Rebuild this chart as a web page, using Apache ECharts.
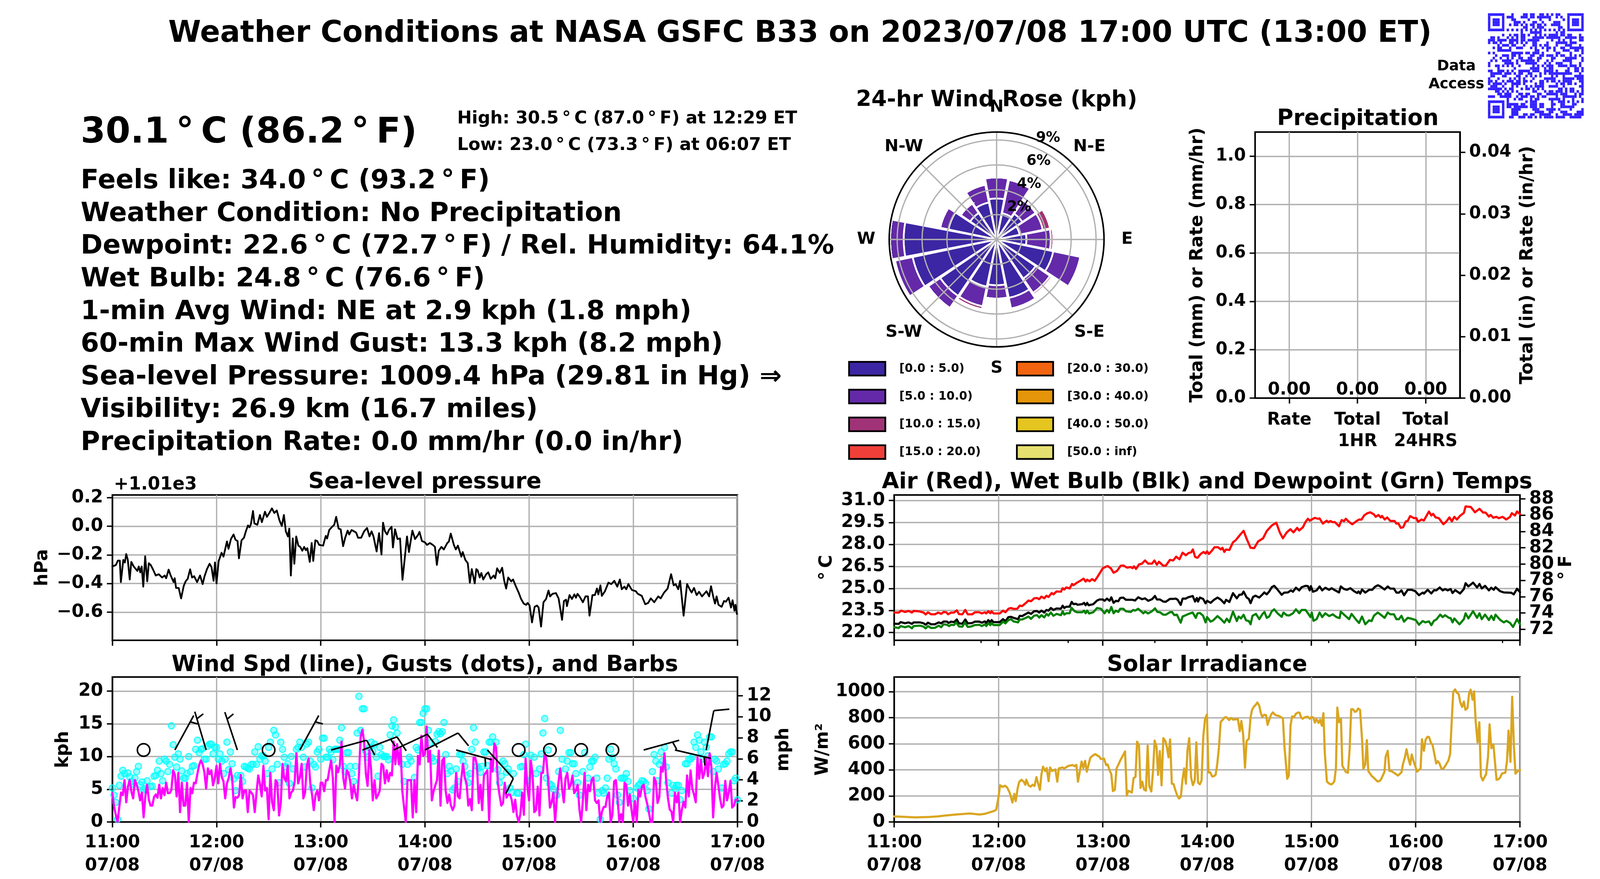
<!DOCTYPE html>
<html><head><meta charset="utf-8">
<style>html,body{margin:0;padding:0;background:#fff;overflow:hidden}#c{width:100vw;height:100vh}</style>
<script src="https://cdn.jsdelivr.net/npm/echarts@6/dist/echarts.min.js"></script>
</head><body><div id="c"></div>
<script>
// NOTE: the sandbox window measures 4096x2250 (innerWidth), not the nominal 4500x2250.
// Layout x positions and font sizes are therefore scaled by innerWidth/4500.
const FONT='"DejaVu Sans"';
const timeLabels=['11:00','12:00','13:00','14:00','15:00','16:00','17:00'];
const dateLabel='07/08';
const mainTitle='Weather Conditions at NASA GSFC B33 on 2023/07/08 17:00 UTC (13:00 ET)';
const tempNow='30.1\u2009°\u2009C (86.2\u2009°\u2009F)';
const highLow=['High: 30.5\u2009°\u2009C (87.0\u2009°\u2009F) at 12:29 ET','Low: 23.0\u2009°\u2009C (73.3\u2009°\u2009F) at 06:07 ET'];
const infoLines=[
'Feels like: 34.0\u2009°\u2009C (93.2\u2009°\u2009F)',
'Weather Condition: No Precipitation',
'Dewpoint: 22.6\u2009°\u2009C (72.7\u2009°\u2009F) / Rel. Humidity: 64.1%',
'Wet Bulb: 24.8\u2009°\u2009C (76.6\u2009°\u2009F)',
'1-min Avg Wind: NE at 2.9 kph (1.8 mph)',
'60-min Max Wind Gust: 13.3 kph (8.2 mph)',
'Sea-level Pressure: 1009.4 hPa (29.81 in Hg) ⇒',
'Visibility: 26.9 km (16.7 miles)',
'Precipitation Rate: 0.0 mm/hr (0.0 in/hr)'];

// Sea-level pressure, offset from 1010 hPa: [minute since 11:00, hPa]
const pressure=[[0,-.281],[2,-.271],[3.2,-.24],[4.3,-.24],[4.9,-.39],[6.3,-.235],[7.2,-.253],[8,-.194],[8.9,-.235],[10,-.372],[10.9,-.249],[12.3,-.281],[14.4,-.312],[15.2,-.281],[16.1,-.322],[16.9,-.281],[17.8,-.422],[18.9,-.21],[20.1,-.385],[21,-.258],[22.1,-.271],[23.3,-.299],[25,-.344],[26.7,-.335],[28.7,-.358],[30.1,-.344],[31,-.363],[32.4,-.303],[33.6,-.344],[35.3,-.39],[35.9,-.363],[36.7,-.431],[38.2,-.431],[39.6,-.504],[41.1,-.417],[42.2,-.385],[43.4,-.367],[44.8,-.301],[45.9,-.358],[47.1,-.349],[48.8,-.39],[50.5,-.344],[52,-.404],[53.1,-.349],[54.5,-.299],[56,-.262],[57.1,-.285],[58.3,-.381],[59.1,-.253],[60,-.399],[61.2,-.244],[62.9,-.185],[64,-.212],[66,-.106],[66.9,-.158],[68.3,-.089],[69.8,-.057],[70.9,-.094],[72.1,-.103],[72.9,-.224],[74.4,-.098],[75.8,-.08],[76.9,-.035],[78.1,.006],[79,-.007],[79.8,.015],[81,.107],[81.8,.02],[83.5,.011],[85,.079],[86.1,.029],[87.9,.102],[89,.066],[90.4,.093],[91.9,.125],[93.3,.093],[94.7,.111],[96.2,.043],[97.6,.002],[98.8,.079],[99.9,-.035],[101.1,-.071],[101.9,-.016],[102.8,-.344],[103.9,-.085],[104.8,-.262],[105.9,-.071],[107.1,-.135],[108.2,-.144],[109.4,-.171],[110.5,-.144],[111.4,-.167],[112.3,-.153],[113.7,-.249],[114.8,-.117],[115.7,-.242],[116.9,-.098],[118,-.103],[119.1,-.13],[121.4,-.135],[122.9,-.067],[123.7,-.085],[124.9,-.026],[126.3,-.007],[127.8,.011],[128.9,.066],[130.3,-.016],[131.5,-.021],[132.9,-.139],[134.1,-.08],[135.5,-.03],[136.4,-.057],[137.8,-.026],[139.2,-.035],[140.4,-.044],[141.5,-.08],[143.3,-.08],[145,-.035],[146.7,-.012],[148.1,-.071],[149.3,-.035],[150.4,-.071],[152.2,-.176],[153.6,-.048],[155,-.197],[155.9,.025],[157,-.035],[158.2,-.057],[159.3,-.026],[160.8,-.003],[161.6,-.148],[162.8,-.021],[164.2,-.089],[165.7,-.085],[167.1,-.374],[168.5,-.212],[169.7,-.071],[170.8,-.18],[172.8,-.03],[174.3,-.089],[176,-.062],[176.9,-.039],[178.3,-.103],[180,-.112],[181.2,-.13],[182.9,-.117],[184.6,-.13],[185.8,-.144],[186.9,-.27],[188,-.171],[189.5,-.144],[190.9,-.162],[192.9,-.117],[193.8,-.107],[194.9,-.051],[196.7,-.13],[197.8,-.162],[199,-.135],[201,-.212],[201.8,-.18],[203.3,-.235],[204.7,-.258],[205.9,-.394],[207,-.299],[208.7,-.399],[209.6,-.299],[210.4,-.308],[211.6,-.358],[212.5,-.326],[213.6,-.372],[215.3,-.335],[216.5,-.322],[217.9,-.367],[219.6,-.344],[220.5,-.363],[221.6,-.294],[223.1,-.326],[224.5,-.29],[225.7,-.381],[226.8,-.435],[228,-.358],[229.7,-.385],[230.8,-.372],[232.3,-.417],[234,-.463],[235.4,-.508],[236.9,-.54],[238.3,-.549],[239.2,-.536],[240.3,-.554],[241.7,-.672],[243.2,-.563],[244.6,-.554],[245.5,-.568],[246.9,-.701],[248.3,-.531],[249.8,-.508],[251.2,-.449],[252.1,-.49],[253.5,-.472],[255.5,-.467],[257,-.504],[259,-.654],[260.1,-.522],[261.3,-.513],[261.8,-.558],[263.3,-.481],[264.7,-.508],[266.1,-.476],[267,-.499],[267.9,-.472],[269.3,-.495],[271,-.531],[272.5,-.49],[273.9,-.49],[274.8,-.625],[276.5,-.481],[277.9,-.481],[279.1,-.435],[279.9,-.476],[281.1,-.413],[281.9,-.486],[283.7,-.454],[285.7,-.394],[287.4,-.404],[289.1,-.381],[290.8,-.422],[292.3,-.372],[293.4,-.44],[294.9,-.422],[296,-.44],[297.2,-.404],[299.2,-.445],[301.5,-.454],[302.6,-.472],[304.9,-.486],[306.9,-.545],[308.6,-.536],[310.1,-.504],[312.1,-.531],[314.4,-.49],[315.8,-.504],[317.8,-.463],[319.8,-.435],[321.8,-.335],[323.3,-.413],[324.4,-.404],[325.9,-.44],[327,-.381],[329,-.625],[331,-.404],[332.5,-.44],[333.6,-.463],[335,-.431],[336.5,-.481],[337.9,-.458],[339.6,-.49],[342.2,-.454],[343.7,-.49],[344.8,-.419],[346.2,-.499],[347.1,-.54],[348,-.49],[349.1,-.549],[350.9,-.563],[352.3,-.522],[353.4,-.527],[354.9,-.499],[356.3,-.568],[357.2,-.517],[358.3,-.59],[358.9,-.549],[359.7,-.613]];

// 1-min wind speed, kph, one value per minute from 11:00
const windSpeed=[4.4,2.3,1.1,0,2.3,4.5,4.1,6.4,3,5.4,6.4,4.6,3.6,6.4,5.7,4.7,3.3,4.5,.7,3.9,5.7,3.4,2.5,2.5,3.8,4.2,3.7,5.7,3.6,5.2,4.1,6,4.4,4.4,4.9,7.9,7.2,3.9,7.5,1.5,6,2.5,2.5,6,0,5.2,4.4,6,5.9,7.4,8.7,9.4,8.8,7.6,5.1,8.2,7.3,7.9,5.6,6.7,8.6,5.9,8.9,6.9,6.2,3.6,5.9,6.7,8.2,6.7,2.2,3.8,3.7,4.1,7.2,3.6,4.8,4.8,1.5,4.8,4.5,4.1,1.5,4.4,7.1,5.8,3.9,8.6,4.8,5.2,.4,7.5,3,1.8,6.4,6,1,2.9,8.9,6.7,6.2,8.6,3.6,4.5,4.8,6.2,10.5,5.9,6.8,8.9,3.6,4.5,8.6,9.7,5.9,4.2,1.8,4.1,4.8,3.3,6,6,4.7,6.4,6.4,8,9.4,6.7,0,8.6,7.6,8.7,12.3,6.7,5.1,7.9,7.5,6.2,3.6,5.7,4.3,3.3,7.1,13,14.1,12.3,7.4,5.5,11,8,3.3,6.4,3.6,4.1,4.8,8.9,8.6,5.9,7.9,6.2,7.5,
7.1,12.3,8.8,11.9,8.8,11.4,4.7,2.3,0,6.4,6.4,6.4,.7,6.4,1.5,10.1,8.8,13.2,10.1,10.3,14.6,9.2,10.9,3.3,4.7,5.6,6.4,10.9,2.5,9.4,9.8,4.7,2.9,4.2,2.5,1.8,2.5,7.5,3.9,3.6,6.7,8.9,6.7,5.9,2.5,3.5,1.8,9.8,9.8,8.6,2.9,5.7,1.8,7.1,7.5,7.9,0,9.7,7.7,12,11.4,6,4.1,2.5,2.9,6,3.7,4.2,4.2,3.4,1.5,3.4,1,0,1.2,4.5,1.1,9.7,5.4,3.3,9.4,7.3,1.5,1.8,5.4,1,7.5,7.5,10.6,9.5,6.4,2.2,3,4.5,0,3.6,6.2,8.2,5.1,3,6.7,7.5,5.1,5.7,7.1,4.4,4.8,5.7,1.9,0,3.4,7.5,1.8,5.7,4.7,6.4,6.8,3.3,2.9,3.3,0,1.6,2.3,2.3,3.9,4.5,0,1.1,6.2,6.4,3.4,0,1.2,0,6,5.7,2.5,4.2,1.9,0,3.2,0,4.9,3.9,5.4,5.7,3.9,2.8,1.5,0,0,6.8,6.2,2.9,3.8,8.4,7.7,10.5,6.2,3.6,1.9,1.6,0,4.5,3,4.5,0,1.9,3.1,2.2,7.1,3.9,7.9,5.1,4.2,3,9.9,6.6,9.5,6.7,7.5,9.7,7,10.5,8.4,.7,5.1,7.5,5.6,3.6,2.2,2.5,6.3,3.3,4.5,6.3,2.2,2.5,3.4,3.4];

// Gusts: [minute since 11:00, kph]
const windGust=[[0,5.2],[1,4.1],[2,3],[3,.4],[4,5.6],[5,7],[6,7.9],[7,7.4],[9,7.5],[10,6.9],[11,6.2],[12,5.8],[13,6.7],[14,7.7],[15,8.5],[16,5.7],[17,6.1],[18,4.9],[19,5.1],[20,6.3],[22,5.4],[23,5.5],[24,7],[25,7.1],[26,7.9],[27,9.3],[28,7.4],[29,6.3],[30,9.6],[31,9.3],[32,7.7],[33,8.8],[34,14.7],[35,11.8],[36,9.9],[37,8.4],[38,10.4],[39,9.6],[40,7.8],[41,6.7],[42,6.7],[43,7.4],[44,10],[45,7.7],[46,8.5],[47,8.6],[48,11.1],[49,12.5],[50,10.6],[51,11.1],[52,11.2],[53,9.6],[54,9.6],[55,11.6],[56,11.9],[57,11.9],[58,10.4],[59,11.4],[60,11.4],[61,9.6],[62,10.4],[63,9.3],[64,7.4],[65,9.6],[66,12.2],[67,8],[68,10.7],[69,8.9],[70,6.6],[71,4.8],[72,7.1],[74,7.1],[75,6.2],[76,8.5],[77,8.4],[78,8.2],[79,8.1],[80,8.8],[81,8.8],[82,10.7],[83,8.8],[84,11.5],[85,9.6],[86,10.1],[87,10.1],[88,9.3],[89,7.4],[90,11.4],[91,12.2],[92,8.1],[93,14],[94,13.3],[95,8.8],[96,6],[97,12.2],[98,11.1],[99,9.9],[100,8.4],[101,8.9],[102,5.9],[103,10],[104,8.1],[106,11.1],[107,11.4],[108,12.2],[109,11.4],[110,9.9],[111,8.4],[112,11.9],[113,12.2],[114,9.3],[115,5.2],[116,8.8],[117,8.4],[118,10.7],[119,11.1],[120,9.6],[121,12.8],[122,12.8],[123,9.9],[124,9.9],[125,11.1],[126,10.7],[127,9.5],[128,11.1],[129,11.1],[130,11.1],[131,12.5],[132,14.4],[133,8.5],[134,7.7],[135,10.6],[136,10.6],[137,8.5],[138,7.4],[139,6.2],[140,8.5],[141,13.6],[142,19.2],[143,14],[144,17.3],[145,17.3],[146,10.8],[147,9.9],[148,11.4],[149,12.2],[150,10.8],[151,11.9],[152,9.9],[153,7],[154,11.4],[155,10.3],[156,10],[157,10],[158,10],[159,9.5],[160,13.3],[161,14.7],[162,15.6],[163,14.5],[164,13.6],[167,8.8],[168,6.2],[170,8.8],[171,9.9],[172,9.3],[174,6.8],[175,11.4],[176,11],[177,15.2],[178,15.2],[179,16.6],[180,17.3],[181,17.3],[182,14],[183,12.1],[184,9.8],[185,9.3],[186,12.3],[187,13.4],[188,13.8],[189,13.5],[190,13.8],[191,15.2],[192,10.3],[193,7.4],[194,8.5],[195,7.8],[196,4.9],[197,5.2],[198,8.1],[199,6.2],[200,10.3],[201,10.3],[202,9.3],[203,8.5],[204,7.1],[205,6],[206,7.4],[207,11.1],[208,14.4],[209,12.2],[210,8.5],[211,8.2],[212,7.6],[213,8.5],[214,10.7],[215,10.7],[216,8.6],[217,12.2],[218,12.2],[219,13],[221,12.2],[222,8],[223,6],[224,7],[225,9.3],[226,8.9],[227,7.6],[228,8.1],[229,5.2],[230,4.5],[231,7.4],[233,4.4],[234,4.4],[235,8.4],[236,8.5],[237,10.3],[238,11.9],[239,6.3],[241,10.2],[243,9.9],[244,7.4],[246,8.1],[247,10.4],[248,13.6],[249,15.8],[250,6.7],[251,11],[252,5.8],[253,5.6],[254,5],[255,4.1],[256,4.1],[257,7.7],[258,14],[259,9.6],[261,8.1],[262,9.3],[263,10.6],[264,10.6],[265,8.9],[266,8.9],[267,7.4],[268,6],[269,4.1],[271,7.7],[272,10.6],[274,6.7],[275,8.4],[276,9.3],[277,9.3],[278,9.9],[279,6.7],[280,4.4],[281,.4],[282,4.8],[283,4.4],[284,5.2],[285,6.7],[286,9.6],[287,11.1],[288,9.9],[289,8.9],[290,8.1],[291,4.1],[292,3],[293,6.7],[294,6.7],[295,6.7],[296,7.4],[297,6.2],[298,4.8],[300,3.6],[302,5.2],[303,5.6],[304,5.8],[305,6.3],[306,6.2],[307,5.9],[308,4.8],[309,2],[311,7.7],[312,10.3],[313,9.3],[314,6.3],[315,8.8],[316,10.7],[317,9.3],[318,11.4],[319,8.4],[320,6],[322,4.4],[323,5.6],[324,5.1],[325,5.6],[326,5.6],[327,3.4],[328,4.8],[330,8.9],[331,8.9],[332,9.6],[333,9.6],[334,9.9],[335,12.2],[336,11.4],[337,13.3],[338,12.5],[339,10.7],[340,9.6],[341,12.2],[342,11.4],[343,10.1],[344,13],[345,13],[346,7.7],[347,9.6],[348,9.3],[349,8.1],[351,5.2],[352,8.8],[353,8.9],[354,9.3],[355,10.4],[356,10.7],[357,10.7],[358,6.3],[359,6.7],[360,3.4]];

// Barbs: minute, shaft bearing on screen (deg), kind (0 calm, 1 half, 2 full, 3 full+half)
const barbMinutes=[18,36,54,72,90,108,126,144,162,180,198,216,234,252,270,288,306,324,342];
const barbBearings=[0,31,-18,-20,0,31,76,71,67,65,104,135,0,0,0,0,76,102,12];
const barbKinds=[0,1,1,1,0,1,2,3,2,2,1,2,0,0,0,0,1,1,2];
const barbLevel=11;

// Air temperature, °C: [minute, value]
const airTemp=[[0,23.36],[2.6,23.36],[4,23.49],[6.2,23.4],[8.3,23.47],[10.2,23.36],[11.2,23.47],[14.8,23.43],[16.9,23.36],[18.1,23.23],[19.4,23.38],[21.2,23.24],[23.4,23.24],[25.3,23.36],[27,23.27],[28.4,23.4],[29.9,23.38],[31,23.24],[32.7,23.36],[34.4,23.36],[36,23.51],[37.3,23.25],[39.2,23.24],[40.9,23.54],[42.3,23.24],[44.9,23.24],[46.4,23.38],[48.9,23.38],[50.4,23.3],[52.1,23.38],[53,23.3],[54.1,23.45],[55.3,23.31],[56,23.45],[57.1,23.3],[60.7,23.3],[62.6,23.49],[64,23.38],[65.7,23.62],[67.2,23.67],[68.6,23.61],[70.8,23.62],[72.2,23.83],[73.6,23.8],[75.8,24.02],[77.2,24.18],[78.7,24.13],[80.5,24.33],[82.2,24.35],[83.4,24.27],[84.7,24.45],[86.3,24.33],[87.6,24.51],[88.7,24.42],[90.6,24.69],[91.6,24.6],[93.4,24.8],[95.9,24.78],[96.9,25.02],[97.8,24.93],[99,25.07],[100.9,25],[102.3,25.31],[103.1,25.22],[105.2,25.4],[106.6,25.49],[108.9,25.67],[110.1,25.47],[111,25.6],[112.4,25.49],[113.8,25.64],[115.3,25.52],[116.7,25.75],[120,26.38],[122.7,26.53],[124.6,26.38],[126.2,26.07],[128.2,26.2],[130.3,26.55],[131.8,26.57],[133.9,26.42],[136.1,26.46],[137.1,26.38],[137.9,26.51],[139.1,26.33],[140.8,26.64],[142.5,26.69],[144.3,26.91],[146.1,26.69],[148.3,26.69],[149.7,26.91],[151.1,26.62],[152.3,26.82],[154.7,26.55],[156.2,26.55],[158.6,26.95],[160.5,26.91],[162.2,27.17],[164.1,26.99],[165.9,27.44],[167.7,27.26],[169.4,27.42],[170.8,27.46],[171.8,27.66],[173.1,27.15],[174.5,27.09],[176.3,27.35],[178,27.49],[179.1,27.38],[180,27.53],[181,27.35],[182.7,27.57],[184.2,27.81],[186.3,27.81],[187.8,27.66],[188.8,27.77],[189.9,27.49],[190.9,27.66],[192.8,27.62],[194.9,28.15],[196.4,28.28],[198.5,28.59],[201,28.93],[202.8,28.37],[205,27.77],[207.1,27.75],[209.3,28.2],[212.2,28.42],[214.3,28.91],[217.2,29.29],[219.8,29.48],[221.8,28.82],[223.6,28.42],[225.8,28.82],[227.9,29.04],[229.7,28.82],[231.8,29.13],[233,28.95],[235.1,29.17],[236.6,29.53],[238,29.75],[239,29.62],[241.9,29.81],[243.7,29.75],[244.7,29.77],[246.6,29.42],[248.8,29.62],[249.8,29.51],[250.9,29.6],[252.3,29.51],[253.4,29.53],[255.9,29.24],[257.4,29.66],[258.8,29.59],[259.8,29.75],[261.7,29.53],[263.5,29.37],[265.7,29.57],[267.4,29.7],[268.8,29.69],[270.3,29.97],[272.2,30.13],[273.9,30.19],[276,30.04],[277,29.88],[278.5,30.01],[279.9,29.84],[280.6,29.94],[282.2,29.7],[283.6,29.84],[285.4,29.6],[287.8,29.6],[288.9,29.42],[290,29.44],[291.4,29.13],[292.8,29.17],[294.3,29.57],[295.4,29.6],[296.8,29.93],[299,29.79],[300.4,29.79],[301.4,29.54],[303.3,29.7],[304.7,29.63],[307.6,30.24],[309,29.97],[310,30.08],[311.5,29.84],[313.3,29.79],[315.9,29.38],[317.4,29.53],[319.4,29.84],[320.8,29.57],[322.2,29.88],[323.7,29.7],[325.5,29.95],[327.7,30.15],[328.7,30.59],[331.7,30.55],[334.1,30.19],[336.7,30.43],[338.8,30.17],[340.2,30.17],[342.1,29.9],[343.1,30.01],[344.6,29.82],[346.4,29.88],[347.8,29.79],[350,29.88],[352.1,29.7],[354.3,29.88],[355.3,30.13],[357.1,29.97],[358.3,30.25],[360,30.06]];

const wetBulb=[[0,22.6],[2.6,22.59],[3.7,22.71],[6.2,22.63],[8.3,22.69],[10.2,22.59],[11.2,22.69],[14.8,22.69],[16.9,22.63],[18.1,22.53],[19.4,22.67],[21.2,22.56],[23.4,22.56],[25.6,22.69],[27,22.62],[28.4,22.75],[30.3,22.75],[31.3,22.65],[32.7,22.74],[34.4,22.71],[36,22.89],[37.3,22.62],[39.2,22.6],[40.9,22.89],[42.3,22.62],[44.9,22.65],[46.4,22.74],[48.9,22.75],[50.4,22.67],[52.1,22.76],[53,22.65],[54.1,22.85],[55.3,22.69],[56,22.85],[57.1,22.71],[60.7,22.71],[62.6,22.91],[64,22.78],[65.7,23.05],[67.2,23.07],[68.6,23],[71.2,22.91],[72.2,23.14],[73.6,23.12],[75.8,23.27],[77.2,23.36],[78.7,23.27],[80.5,23.45],[82.2,23.46],[83.4,23.36],[84.7,23.49],[86.3,23.36],[87.6,23.54],[88.7,23.49],[90.1,23.67],[91.6,23.54],[93.4,23.64],[95.9,23.62],[96.9,23.83],[97.8,23.67],[99,23.76],[100.9,23.76],[102.1,24.09],[103.1,23.93],[104.5,23.96],[105.5,23.89],[108.1,23.93],[109.2,24.02],[110.1,23.86],[111,24.02],[111.8,23.86],[114.5,23.93],[116.7,24.18],[118.1,24.25],[120,24.25],[121,24.16],[122.4,24.31],[123.9,24.16],[124.9,24.4],[126.2,24.02],[127.5,24.16],[128.9,24.13],[130,24.36],[131.8,24.38],[133.2,24.23],[137.1,24.23],[138.5,24.18],[140.4,24.4],[142.5,24.27],[144.3,24.33],[146.1,24.16],[148.3,24.27],[150,24.49],[151.1,24.25],[152.9,24.25],[154.7,24.11],[156.2,24.09],[158.6,24.29],[160.5,24.29],[162,24.31],[163.1,24.23],[164.8,23.88],[165.9,24.31],[167.7,24.31],[169.1,24.4],[171.7,24.49],[173.1,24.11],[174.1,24.35],[174.8,24.11],[175.8,24.38],[177.7,24.29],[179.1,23.99],[180,24.16],[182,24.02],[184.2,24.25],[186,24.38],[187.8,24.25],[189.9,23.99],[190.9,24.23],[192.8,24.08],[194.9,24.68],[197.1,24.33],[198.5,24.57],[200,24.59],[201,24.79],[202.8,24.38],[204,24.29],[205,24],[206.4,24.42],[207.8,24.51],[210,24.38],[211.9,24.6],[212.9,24.73],[214.3,24.6],[215.7,24.79],[217.2,25.09],[218.6,25.18],[220,25],[222.9,24.57],[224.4,24.72],[226.5,24.73],[228.2,24.87],[229.4,24.78],[231.1,25.05],[233,24.87],[234.4,25.09],[236.6,25.18],[238,25.16],[239,24.87],[239.7,25.16],[240.9,24.78],[243,24.87],[244.7,25.14],[246.2,24.87],[248,25.05],[250.2,24.91],[251.6,25.02],[253.1,24.91],[255.9,24.73],[256.9,25.14],[258.8,24.96],[260.5,24.91],[262.4,25.02],[264.5,24.82],[266.3,24.69],[267.1,24.8],[268.1,24.65],[269.1,24.93],[271,24.72],[273.2,24.91],[275,24.91],[276.5,25.11],[278.2,25.22],[279.6,25.14],[282.1,24.93],[283.9,25.14],[285.4,24.99],[287.5,24.99],[288.9,24.72],[290.4,24.72],[291.8,24.87],[293.3,24.54],[295.4,24.91],[297.6,24.91],[299.7,24.82],[301.9,24.54],[304,24.72],[304.7,24.65],[306.9,24.91],[309,24.66],[310.5,24.88],[311.9,24.87],[313.8,25.07],[315.5,24.87],[316.9,24.96],[318.4,24.87],[320.1,24.96],[321.2,24.69],[322.7,24.89],[325.5,24.66],[327.7,24.96],[328.7,25.36],[330.3,25.14],[333,25.4],[335.3,25.07],[336.7,25.31],[338,25],[339.9,25.18],[342.1,24.87],[343.5,25.05],[344.9,24.91],[345.9,25.09],[348.5,24.82],[350.7,24.73],[355,24.71],[356.4,24.6],[358.3,24.98],[360,24.75]];

const dewPoint=[[0,22.36],[2.6,22.31],[3.7,22.44],[6.2,22.36],[8.3,22.44],[10.2,22.29],[11.2,22.44],[14.8,22.47],[16.9,22.4],[18.1,22.28],[19.4,22.44],[21.2,22.31],[23.4,22.32],[25.6,22.47],[27,22.36],[28.4,22.56],[30.3,22.53],[31.6,22.44],[32.7,22.53],[34.4,22.51],[35.6,22.69],[37.3,22.41],[39.2,22.4],[40.6,22.69],[42.3,22.38],[44.2,22.41],[46.4,22.51],[48.9,22.53],[50.4,22.44],[52.1,22.56],[53,22.44],[54.1,22.65],[55.3,22.5],[56,22.65],[57.1,22.51],[60.7,22.51],[62.6,22.74],[64,22.62],[65.7,22.85],[67.2,22.91],[68.6,22.76],[71.2,22.69],[72.2,22.89],[73.6,22.89],[75.8,23],[77.2,23.09],[78.7,22.93],[80.5,23.15],[82.2,23.18],[83.4,23.02],[84.7,23.18],[86.3,23.03],[87.6,23.27],[88.7,23.15],[90.1,23.36],[91.6,23.14],[93.4,23.27],[95.9,23.18],[96.9,23.45],[97.8,23.22],[99,23.31],[100.9,23.31],[102,23.69],[103.8,23.45],[105.2,23.38],[108.1,23.38],[109.2,23.49],[110.1,23.31],[111,23.49],[112.1,23.3],[114.5,23.38],[116.7,23.67],[118.9,23.62],[121,23.31],[122.4,23.54],[123.6,23.36],[124.9,23.74],[126.2,23.31],[127.5,23.49],[128.9,23.4],[130,23.62],[131.8,23.62],[133.2,23.45],[136.1,23.4],[137.5,23.54],[138.5,23.49],[140.4,23.62],[143.3,23.31],[144.3,23.42],[146.1,23.3],[148.3,23.45],[150,23.65],[151.4,23.4],[152.9,23.38],[154.7,23.22],[156.2,23.21],[158.6,23.38],[159.8,23.4],[161.2,23.18],[162.6,23.22],[164.8,22.67],[165.9,23.09],[168.1,23.2],[169.4,23.27],[171.7,23.36],[173.5,23.0],[174.5,23.31],[175.9,23.33],[177.7,23.14],[179.1,22.69],[180,23.05],[182,22.74],[183.5,22.83],[186,23.12],[188,22.91],[189.9,22.67],[191.3,22.94],[192.8,22.71],[194.9,23.42],[197.1,22.78],[198.1,23.09],[199.5,22.96],[201,23.21],[202.4,22.83],[204,22.78],[205,22.56],[206.1,23.14],[208.1,23.27],[210,22.91],[211.9,23.27],[213,23.4],[214.3,23],[215.7,23.09],[217.2,23.45],[218.6,23.58],[220.5,23.31],[222.9,23.07],[223.9,23.36],[225.8,23.18],[227.2,23.16],[229.4,23.31],[231.1,23.58],[233,23.31],[234.4,23.54],[236.6,23.54],[238,23.31],[239.5,23.05],[240.2,23.36],[241.2,22.8],[243,22.91],[244.7,23.36],[246.2,23.05],[248,23.31],[250.2,23.12],[252.3,23.24],[254.4,23.05],[256.2,22.98],[256.9,23.42],[259.5,23.14],[261.7,22.91],[263.1,23.27],[266,22.83],[267.4,22.65],[269.1,23.09],[271,22.56],[273.2,22.83],[274.6,22.78],[276,23.15],[278.2,23.36],[279.6,23.24],[282.1,23],[283.9,23.36],[285.4,23.24],[287.5,23.24],[288.9,22.91],[290.4,22.91],[291.8,23.14],[293.3,22.74],[295.4,23],[297.6,22.94],[300,22.85],[301.9,22.53],[304,22.78],[305.5,22.69],[307.6,22.76],[309,22.5],[310.5,22.8],[311.9,22.89],[314.1,23.22],[315.5,23.05],[316.9,23.18],[319.1,23],[320.1,22.98],[321.2,22.69],[322.2,22.96],[323.8,22.74],[325.2,22.56],[327.7,22.91],[328.7,23.31],[330.3,22.96],[333,23.45],[335.3,23],[336.7,23.31],[338,22.91],[339.9,23.22],[342.1,22.85],[343.5,23.14],[344.9,22.85],[345.9,23.22],[348.5,22.87],[350.7,22.69],[352.2,22.8],[354.3,22.65],[356,22.38],[358.3,22.91],[360,22.56]];

// Solar irradiance, W/m²: [minute, value]
const solar=[[0,43],[5,40],[12,35],[20,38],[25,43],[30,50],[36,58],[43.7,65],[49,57],[52,62],[57.4,84],[58.7,95],[60,190],[60.9,282],[62.3,269],[63.7,278],[65,264],[66.4,226],[68,149],[69.1,215],[69.9,160],[71,258],[71.9,307],[73.2,324],[74.6,307],[75.4,285],[76,324],[77.3,280],[78.5,271],[79.6,286],[80.7,276],[81.8,344],[83.8,246],[84.7,366],[85.6,424],[86.8,391],[87.7,413],[88.8,313],[89.7,418],[90.8,391],[92.7,403],[93.8,309],[94.7,411],[96.8,418],[97.8,411],[100.4,431],[102.7,437],[103.7,428],[104.8,438],[105.7,309],[107.8,464],[108.8,413],[109.8,469],[110.8,386],[112.8,493],[114.2,509],[115.7,521],[116.9,509],[117.8,504],[118.9,483],[120.7,486],[121.9,436],[122.8,441],[123.9,396],[124.9,366],[125.8,237],[126.9,246],[127.9,411],[129,441],[130,471],[131,496],[132.8,541],[133.8,202],[134.7,239],[136.7,226],[137.7,336],[138.8,346],[139.7,616],[140.8,591],[141.7,261],[142.7,309],[143.7,249],[144.8,240],[145.8,586],[146.7,276],[147.9,234],[148.9,391],[149.8,624],[150.9,576],[151.8,361],[152.8,544],[153.8,281],[154.8,643],[156,621],[156.9,571],[157.8,496],[158.7,634],[159.7,293],[160.7,291],[161.8,241],[163,197],[163.9,180],[164.9,194],[165.8,321],[166.8,411],[167.8,293],[168.7,551],[169.7,643],[170.8,341],[171.8,283],[172.9,318],[173.8,611],[174.8,301],[175.8,289],[176.8,318],[177.8,656],[178.8,790],[179.9,825],[180.8,379],[181.8,381],[182.9,349],[183.9,351],[184.9,363],[185.8,441],[186.8,571],[187.8,767],[188.8,782],[190,800],[190.9,805],[192.7,782],[193.8,798],[195,785],[197.7,790],[198.8,696],[199.7,775],[200.7,676],[201.8,416],[202.7,621],[204,638],[205,802],[205.8,858],[206.9,885],[207.8,895],[208.9,917],[210,892],[210.8,840],[211.7,805],[212.8,822],[213.9,820],[214.8,745],[216,795],[216.9,825],[217.8,840],[218.9,825],[219.8,818],[221.4,813],[223.6,795],[224.5,576],[226.1,331],[227,356],[228,740],[228.9,810],[230,805],[231.1,830],[232.3,840],[233.2,838],[234.1,802],[235,792],[236.2,803],[237.9,808],[239.1,792],[240,805],[241.1,802],[242,762],[242.9,790],[244.1,760],[245,785],[246,738],[246.9,835],[247.7,530],[248.9,311],[250,296],[251.4,288],[252.3,296],[253.2,312],[254.1,410],[254.9,878],[255.9,765],[257,790],[257.8,431],[259.8,383],[261,378],[262,560],[262.9,865],[263.9,865],[265,845],[266,850],[266.9,870],[268,860],[269.1,640],[269.9,409],[271,441],[271.9,628],[272.7,391],[274.8,351],[275.9,339],[278,311],[279.1,313],[280,326],[282,383],[282.7,500],[283.9,546],[284.9,391],[285.9,391],[288,373],[289.8,356],[291.8,381],[292.7,446],[293.8,496],[294.7,558],[295.9,481],[296.8,439],[297.7,518],[298.8,466],[299.8,426],[300.8,386],[301.8,399],[302.8,409],[303.6,635],[304.7,546],[305.7,631],[306.8,654],[307.7,651],[308.8,606],[309.7,591],[311.8,449],[312.7,466],[313.6,451],[314.8,409],[315.9,409],[316.8,426],[318.8,471],[319.8,521],[320.7,770],[321.6,998],[322.7,1017],[323.6,992],[324.7,982],[325.6,920],[326.7,882],[327.7,924],[328.6,860],[329.8,875],[330.7,985],[331.6,1015],[332.7,938],[333.6,1002],[334.5,770],[335.6,610],[336.6,765],[337.5,351],[338.6,319],[340.5,366],[341.6,500],[342.5,749],[343.5,566],[344.7,596],[346.5,324],[347.4,326],[348.5,339],[349.6,371],[351.6,379],[352.5,466],[353.4,701],[354.5,461],[355.5,961],[356.5,581],[357.4,371],[358.8,391],[360,400]];

// Wind rose: percentage per bin, 16 sectors clockwise from N
const roseDirs=['N','NNE','NE','ENE','E','ESE','SE','SSE','S','SSW','SW','WSW','W','WNW','NW','NNW'];
const roseBins=['[0.0 : 5.0)','[5.0 : 10.0)','[10.0 : 15.0)','[15.0 : 20.0)','[20.0 : 30.0)','[30.0 : 40.0)','[40.0 : 50.0)','[50.0 : inf)'];
const roseColors=['#3c26a3','#6429a8','#a03377','#ef3f38','#f2640f','#e5950a','#e5c520','#e5e070'];
const rose0=[3.55,2.32,2.69,2.04,2.58,5.01,4.09,5.16,3.96,4.17,5.91,7.42,8.04,4.26,2.77,3.27];
const rose1=[1.82,2.95,1.40,2.04,2.11,2.39,1.50,0.95,1.16,1.74,1.27,1.56,1.18,.73,.99,1.57];
const rose2=[0,0,0,.65,.22,0,.19,0,0,.26,0,0,0,0,0,0];
const roseEmpty=[0,0,0,0,0,0,0,0,0,0,0,0,0,0,0,0];
const roseSeries=[rose0,rose1,rose2,roseEmpty,roseEmpty,roseEmpty,roseEmpty,roseEmpty];
const roseRings=[2.15,4.3,6.45,8.6];
const roseMax=9.29;
const roseTickLabels=[[3.42,35,'2%'],[5.55,30.4,'4%'],[7.68,28.2,'6%'],[9.84,26.9,'9%']];
const compassLabels=[[11.42,0,'N'],[11.35,45,'N-E'],[11.28,90,'E'],[11.35,135,'S-E'],[11.15,180,'S'],[11.35,225,'S-W'],[11.28,270,'W'],[11.35,315,'N-W']];

// Precipitation
const precipCats=['Rate','Total\n1HR','Total\n24HRS'];
const precipVals=[0,0,0];

// Tick values
const pressTicks=[-.6,-.4,-.2,0,.2];
const kphTicks=[0,5,10,15,20];
const mphTicks=[0,2,4,6,8,10,12];
const cTicks=[22,23.5,25,26.5,28,29.5,31];
const fTicks=[72,74,76,78,80,82,84,86,88];
const fLabelSlots=[70.7,...fTicks,88.4];
const solarTicks=[0,200,400,600,800,1000];
const mmTicks=[0,.2,.4,.6,.8,1];
const inTicks=[0,.01,.02,.03,.04];

// QR modules, one string per row: column indices / ranges
const qrRows=[
'0-6 10 15-16 18-19 22-23 25 27 29-30 34-40',
'0 6 8-10 14-16 18-19 21-23 24-26 29 31 34 40',
'0 2-4 6 10-11 17 22 26 32 34 36-38 40',
'0 2-4 6 11-13 15 19-20 23 28-30 34 36-38 40',
'0 2-4 6 9 11-12 14 16 18-19 21-22 24 27-30 34 36-38 40',
'0 6 15-16 19 21-23 30-31 34 40',
'0-6 8 10 12 14 16 18 20 22 24 26 28 30 32 34-40',
'14 18-22 29 31-32',
'6 9 11-12 14-15 17 20 22 24 26-29 31-32 34-35 39',
'1-2 4 8 10 12 14-15 19-23 25-30 33-37 39-40',
'0-2 4-7 9-12 14-15 17-21 27 30 32 35 39-40',
'0 2-3 5 9-10 12 14 16 19-20 25 29-33 35-37',
'4 6-8 10-11 15 19-20 22 24-25 29 33-35 39',
'2 4-5 9 12-14 18 20 23 25-26 28 31-32 35-40',
'4-9 20-21 25 28 32-34 37-38 40',
'0 2 10-14 16-17 19-21 23 29-30 35 40',
'3 6-8 10-11 13 18-19 22-23 25-27 29 31-32 35 37 39',
'2 5 8 10 13-14 17-18 21-22 27-28 33-37 40',
'1 3 6-9 12 14-19 21 25 27 32-35 40',
'0 7-10 12 16-20 24 26 29-31 35 39',
'0 3-4 6 8 10 13 19 21 23 25-27 30-33 35-37 39',
'4 11 18-21 24 26-27 34 37-38 40',
'0-1 4-6 8 10 13-17 19-21 24-27 29 33-34 37-38 40',
'1-5 7-9 11 13-14 17-18 22 24 26-35 39',
'1-2 6-7 12-13 16 18 20 22 27 29 32 37-40',
'0 4 9 11 13 15 19 24-28 32-36 38-40',
'0-1 3 6 8-10 12-13 15-16 18 22-23 25 27-28 30 32-35 39-40',
'0 2-5 7 10-13 15 20 22-23 29 31-32 34-35 37 40',
'1-3 6 10 12 16 18 20-23 26-29 32 39-40',
'0-5 7 9-10 14 16-17 19 21 23 30-31 33 35-36 40',
'3-4 6 8 10 12 19-20 24 26-27 29-31 33 35-36 38 40',
'4-5 7-9 13-14 16-17 21-22 25-29 31-33 37 39-40',
'0-2 5-9 12 14-16 18-19 21 23-24 29 32-37 39',
'8 11 13-14 18 20-21 26-30 32 36 40',
'0-6 8 16 18-20 27 30-32 34 36 38 40',
'0 6 8-12 14-15 18-20 22-23 27-28 31-32 36-37',
'0 2-4 6 8-9 11-16 18-20 22-23 27 31-36',
'0 2-4 6 10-13 19-21 25-28 30 35 40',
'0 2-4 6 10-12 20-23 26-27 31-33 38-40',
'0 6 10-12 15-16 18-19 22-26 29 32-35 37-40',
'0-6 9-10 13-15 17-18 20 22 24-27 29-32 35-39'];

const qrData=[];
qrRows.forEach((r,y)=>r.split(' ').forEach(p=>{const a=p.split('-').map(Number);for(let x=a[0];x<=(a[1]??a[0]);x++)qrData.push([x+.5,y+.5]);}));

const W=window.innerWidth||4500,H=window.innerHeight||2250,sx=W/4500;
const X=v=>v*sx,F=v=>v*sx;
const GRID='#b0b0b0',GW=3.3,SP=4;
const yA=(o)=>Object.assign({type:'value',axisLine:{show:true,onZero:false,lineStyle:{color:'#000',width:SP}},
  axisTick:{show:true,length:14,lineStyle:{color:'#000',width:3.5},customValues:o.ticks},
  axisLabel:Object.assign({show:true,color:'#000',fontFamily:FONT,fontWeight:'bold',fontSize:F(o.fs||50),margin:X(o.margin||26),customValues:o.labels||o.ticks,formatter:o.fmt,hideOverlap:false},o.labels?{}:{showMinLabel:true,showMaxLabel:true}),
  splitLine:{show:!!o.grid,lineStyle:{color:GRID,width:GW}},
  nameLocation:'middle',nameRotate:90,nameTextStyle:{color:'#000',fontFamily:FONT,fontWeight:'bold',fontSize:F(o.nfs||50)}},o.opt);
const xT=(gi,labels)=>({type:'value',gridIndex:gi,min:0,max:360,interval:60,
  axisLine:{show:true,onZero:false,lineStyle:{color:'#000',width:SP}},axisTick:{show:true,length:14,lineStyle:{color:'#000',width:3.5}},
  splitLine:{show:true,lineStyle:{color:GRID,width:GW}},
  axisLabel:labels?{show:true,color:'#000',fontFamily:FONT,fontWeight:'bold',fontSize:F(49),lineHeight:59,margin:24,hideOverlap:false,showMinLabel:true,showMaxLabel:true,
    formatter:v=>timeLabels[Math.round(v/60)]+'\n'+dateLabel}:{show:false}});

const frame={show:true,borderColor:'#000',borderWidth:SP,backgroundColor:'#fff'};
const gridBox=(l,t,w,h)=>Object.assign({left:X(l),top:t,width:X(w),height:h},frame);
const grids=[gridBox(316,1267,1758,372),gridBox(316,1733,1758,371),gridBox(2515,1267,1760,372),gridBox(2515,1733,1760,371),gridBox(3530,338,576,681),
 {left:X(4185),top:34,width:X(269),height:269,show:false}];

const xAxes=[xT(0,false),xT(1,true),xT(2,false),
 {type:'value',gridIndex:2,min:0,max:360,interval:50,position:'bottom',axisLine:{show:false,onZero:false},axisTick:{show:true,length:7,lineStyle:{color:'#000',width:3}},axisLabel:{show:false},splitLine:{show:false}},
 xT(3,true),
 {type:'category',gridIndex:4,data:precipCats,axisLine:{show:true,onZero:false,lineStyle:{color:'#000',width:SP}},
  axisTick:{show:true,alignWithLabel:true,length:14,lineStyle:{color:'#000',width:3.5}},
  splitLine:{show:true,alignWithLabel:true,lineStyle:{color:GRID,width:GW}},
  axisLabel:{color:'#000',fontFamily:FONT,fontWeight:'bold',fontSize:F(48),lineHeight:55,margin:29,interval:0}},
 {type:'value',gridIndex:5,min:0,max:41,show:false}];
const one=v=>v.toFixed(1).replace('-','\u2212');
const yAxes=[
 yA({ticks:pressTicks,grid:true,fmt:one,opt:{gridIndex:0,min:-.797,max:.219,name:'hPa',nameGap:X(171)}}),
 yA({ticks:kphTicks,grid:true,fmt:v=>''+v,opt:{gridIndex:1,min:0,max:22.15,name:'kph',nameGap:X(113)}}),
 yA({ticks:mphTicks,fmt:v=>''+v,opt:{gridIndex:1,min:0,max:13.77,position:'right',name:'mph',nameGap:X(105)}}),
 yA({ticks:cTicks,grid:true,fmt:v=>v.toFixed(1),opt:{gridIndex:2,min:21.47,max:31.37,name:'°\u2009C',nameGap:X(164)}}),
 yA({ticks:fTicks,labels:fLabelSlots,fmt:v=>Number.isInteger(v)?''+v:'',opt:{gridIndex:2,min:70.65,max:88.47,position:'right',name:'°\u2009F',nameGap:X(105)}}),
 yA({ticks:solarTicks,grid:true,fmt:v=>''+v,opt:{gridIndex:3,min:0,max:1112,name:'W/m²',nameGap:X(175)}}),
 yA({ticks:mmTicks,grid:true,fs:48,nfs:50,fmt:v=>v.toFixed(1),opt:{gridIndex:4,min:0,max:1.1,name:'Total (mm) or Rate (mm/hr)',nameGap:X(136)}}),
 yA({ticks:inTicks,fs:48,nfs:50,fmt:v=>v.toFixed(2),opt:{gridIndex:4,min:0,max:1.1/25.4,position:'right',name:'Total (in) or Rate (in/hr)',nameGap:X(166)}}),
 {type:'value',gridIndex:5,min:0,max:41,inverse:true,show:false}];

const lineS=(name,data,x,y,color,w,z)=>({type:'line',name,data,xAxisIndex:x,yAxisIndex:y,symbol:'none',showSymbol:false,silent:true,z:z||3,
  lineStyle:{color,width:w,join:'round',cap:'round'},animation:false});

const SHAFT=103,HALF=22,FULL=44,FEATHER=73;
function renderBarb(params,api){
  const p=api.coord([api.value(0),api.value(1)]);
  const kind=api.value(3),b=api.value(2)*Math.PI/180;
  const stroke={stroke:'#000',lineWidth:4,fill:'none'};
  if(kind===0)return{type:'circle',shape:{cx:p[0],cy:p[1],r:16},style:stroke};
  const dir=(a,l,o)=>[o[0]+Math.sin(a)*l*sx,o[1]-Math.cos(a)*l];
  const tip=dir(b,SHAFT,p),fa=b+FEATHER*Math.PI/180,kids=[{type:'line',shape:{x1:p[0],y1:p[1],x2:tip[0],y2:tip[1]},style:stroke}];
  const add=(o,l)=>{const e=dir(fa,l,o);kids.push({type:'line',shape:{x1:o[0],y1:o[1],x2:e[0],y2:e[1]},style:stroke});};
  if(kind===1)add(dir(b,84,p),HALF);
  if(kind>=2)add(tip,FULL);
  if(kind===3)add(dir(b,84,p),HALF);
  return{type:'group',children:kids};
}
const barbData=barbMinutes.map((t,i)=>[t,barbLevel,barbBearings[i],barbKinds[i]]);

const polars=[{center:[X(2803),613],radius:[0,275]},{center:[X(2803),613],radius:[0,275]}];
const angleAxes=[
 {polarIndex:0,type:'category',data:roseDirs,startAngle:101.25,clockwise:true,boundaryGap:true,axisLine:{show:false},axisTick:{show:false},axisLabel:{show:false},splitLine:{show:false}},
 {polarIndex:1,type:'value',min:0,max:360,interval:45,startAngle:90,clockwise:true,z:6,axisLine:{show:true,lineStyle:{color:'#000',width:4}},axisTick:{show:false},axisLabel:{show:false},splitLine:{show:true,lineStyle:{color:GRID,width:3.3}}}];
const radiusAxes=[
 {polarIndex:0,type:'value',min:0,max:roseMax,axisLine:{show:false},axisTick:{show:false},axisLabel:{show:false},splitLine:{show:false}},
 {polarIndex:1,type:'value',min:0,max:roseMax,z:6,axisLine:{show:false},axisTick:{show:false,customValues:roseRings},axisLabel:{show:false},splitLine:{show:true,lineStyle:{color:GRID,width:3.3}}}];
const roseBars=roseBins.map((n,i)=>({type:'bar',name:n,coordinateSystem:'polar',polarIndex:0,stack:'rose',barWidth:'95%',data:roseSeries[i],silent:true,z:3,
  itemStyle:{color:roseColors[i],borderColor:'#fff',borderWidth:4.5},animation:false}));
const polarLabels=(name,data,fs,z)=>({type:'scatter',name,coordinateSystem:'polar',polarIndex:1,data,symbolSize:1,clip:false,silent:true,z,
  itemStyle:{color:'transparent',opacity:1},animation:false,tooltip:{show:false},
  label:{show:true,position:'inside',color:'#000',opacity:1,textBorderWidth:0,fontFamily:FONT,fontWeight:'bold',fontSize:F(fs),align:'center',verticalAlign:'middle',formatter:p=>p.data[2]}});
const legendBase={selectedMode:false,orient:'vertical',icon:'rect',itemWidth:X(102),itemHeight:35,itemGap:31.7,top:919,
  itemStyle:{borderColor:'#000',borderWidth:4.5},textStyle:{color:'#000',fontFamily:FONT,fontWeight:'bold',fontSize:F(33),padding:[0,0,0,X(34)]}};

const txt=(text,x,base,size,align)=>({type:'text',silent:true,z:20,style:{text,x:X(x),y:base-F(size)*0.26,fill:'#000',font:'bold '+F(size)+'px '+FONT,textAlign:align||'left',textVerticalAlign:'middle'}});
const texts=[
 txt(mainTitle,2250,107,83.5,'center'),
 txt(tempNow,227,365,100.5),
 txt(highLow[0],1286,316,49),txt(highLow[1],1286,384,49),
 ...infoLines.map((s,i)=>txt(s,227,482+i*83.7,74.5)),
 txt('Sea-level pressure',1195,1250,62.5,'center'),
 txt('+1.01e3',320,1253,50),
 txt('Wind Spd (line), Gusts (dots), and Barbs',1195,1718,62.5,'center'),
 txt('Air (Red), Wet Bulb (Blk) and Dewpoint (Grn) Temps',3395,1250,62.5,'center'),
 txt('Solar Irradiance',3395,1718,62.5,'center'),
 txt('24-hr Wind Rose (kph)',2803,272,62.5,'center'),
 txt('Precipitation',3819,320,62.5,'center'),
 txt('Data',4096,180,41,'center'),txt('Access',4096,226,41,'center')];

const option={animation:false,backgroundColor:'#fff',textStyle:{fontFamily:FONT},
 grid:grids,xAxis:xAxes,yAxis:yAxes,polar:polars,angleAxis:angleAxes,radiusAxis:radiusAxes,
 legend:[Object.assign({},legendBase,{left:X(2380),data:roseBins.slice(0,4)}),Object.assign({},legendBase,{left:X(2852),data:roseBins.slice(4)})],
 graphic:texts,
 series:[
  lineS('Sea-level pressure',pressure,0,0,'#000',4.5),
  {type:'scatter',name:'Gusts',data:windGust,xAxisIndex:1,yAxisIndex:1,symbolSize:16,silent:true,z:3,itemStyle:{color:'rgba(0,255,255,.4)',borderColor:'rgba(0,255,255,.8)',borderWidth:3,opacity:1},animation:false},
  lineS('Wind speed',windSpeed.map((v,i)=>[i,v]),1,1,'#ff00ff',5.5,4),
  {type:'custom',name:'Barbs',data:barbData,xAxisIndex:1,yAxisIndex:1,renderItem:renderBarb,silent:true,z:5,clip:false,encode:{x:0,y:1},animation:false},
  lineS('Air',airTemp,2,3,'#ff0000',5.5),
  lineS('Wet bulb',wetBulb,2,3,'#000',5.5),
  lineS('Dewpoint',dewPoint,2,3,'#008000',5.5),
  lineS('Solar',solar,4,5,'#daa520',5.5),
  {type:'bar',name:'Precipitation',data:precipVals,xAxisIndex:5,yAxisIndex:6,barWidth:'80%',silent:true,itemStyle:{color:'#1f77b4'},
   label:{show:true,position:'top',distance:-2,color:'#000',fontFamily:FONT,fontWeight:'bold',fontSize:F(49),formatter:p=>p.value.toFixed(2)},animation:false},
  {type:'scatter',name:'QR',data:qrData,xAxisIndex:6,yAxisIndex:8,symbol:'rect',symbolSize:[6.8*sx,6.8],silent:true,itemStyle:{color:'#3322ff',opacity:1},animation:false},
  ...roseBars,
  polarLabels('rose ticks',roseTickLabels,40,9),
  polarLabels('compass',compassLabels,47,9)
 ]};
const chart=echarts.init(document.getElementById('c'),null,{renderer:'canvas',width:W,height:H});
chart.setOption(option);
</script></body></html>
